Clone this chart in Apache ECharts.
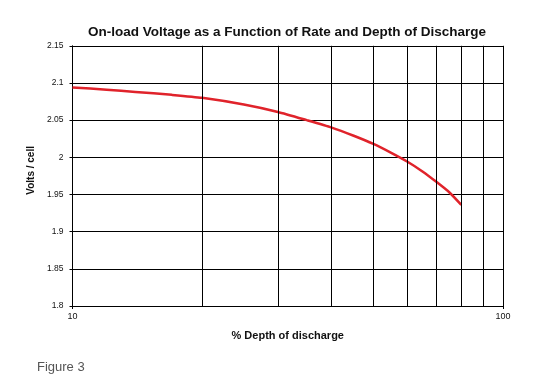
<!DOCTYPE html>
<html><head><meta charset="utf-8">
<script src="https://cdn.jsdelivr.net/npm/echarts@6/dist/echarts.min.js"></script>
<style>html,body{margin:0;padding:0;background:#fff}#c{width:535px;height:382px}</style>
</head><body><div id="c"></div>
<script>
const depth = [10, 12, 14, 17, 20, 25, 30, 35, 40, 45, 50, 55, 60, 65, 70, 75, 80];
const volts = [2.094, 2.091, 2.088, 2.084, 2.080, 2.071, 2.061, 2.050, 2.040, 2.029, 2.018, 2.006, 1.994, 1.981, 1.967, 1.953, 1.936];
const gridX = [20, 30, 40, 50, 60, 70, 80, 90];
const title = 'On-load Voltage as a Function of Rate and Depth of Discharge';
const xName = '% Depth of discharge';
const yName = 'Volts / cell';
const caption = 'Figure 3';

const chart = echarts.init(document.getElementById('c'), null, {renderer: 'canvas'});
const F = 'Liberation Sans, Arial, sans-serif';
chart.setOption({
  animation: false,
  title: [
    {text: title, left: 282, top: 20, textAlign: 'center',
     textStyle: {fontFamily: F, fontSize: 13.5, fontWeight: 'bold', color: '#111'}},
    {text: caption, left: 32, top: 356,
     textStyle: {fontFamily: F, fontSize: 13, fontWeight: 'normal', color: '#555'}}
  ],
  grid: {left: 72.5, right: 32, top: 45.8, bottom: 76, containLabel: false},
  xAxis: {
    type: 'log', logBase: 10, min: 10, max: 100,
    name: xName, nameLocation: 'middle', nameGap: 24,
    nameTextStyle: {fontFamily: F, fontSize: 11, fontWeight: 'bold', color: '#111'},
    axisLine: {show: true, lineStyle: {color: '#000', width: 1}},
    axisTick: {show: true, length: 3, lineStyle: {color: '#000'}},
    axisLabel: {fontFamily: F, fontSize: 9, color: '#111', margin: 6},
    splitLine: {show: true, lineStyle: {color: '#000', width: 1}}
  },
  yAxis: {
    type: 'value', min: 1.8, max: 2.15, interval: 0.05,
    name: yName, nameLocation: 'middle', nameGap: 27, nameRotate: 90,
    nameTextStyle: {fontFamily: F, fontSize: 10, fontWeight: 'bold', color: '#111', padding: [0, 0, 0, 11]},
    axisLine: {show: true, lineStyle: {color: '#000', width: 1}},
    axisTick: {show: true, length: 3, lineStyle: {color: '#000'}},
    axisLabel: {fontFamily: F, fontSize: 8.5, color: '#111', margin: 9},
    splitLine: {show: true, lineStyle: {color: '#000', width: 1}}
  },
  series: [{
    type: 'line', smooth: 0.2, showSymbol: false,
    data: depth.map((d, i) => [d, volts[i]]),
    lineStyle: {color: '#e0232b', width: 2.5},
    markLine: {
      silent: true, symbol: ['none', 'none'], label: {show: false},
      lineStyle: {color: '#000', width: 1, type: 'solid'},
      data: gridX.map(v => ({xAxis: v}))
    }
  }]
});
</script></body></html>
